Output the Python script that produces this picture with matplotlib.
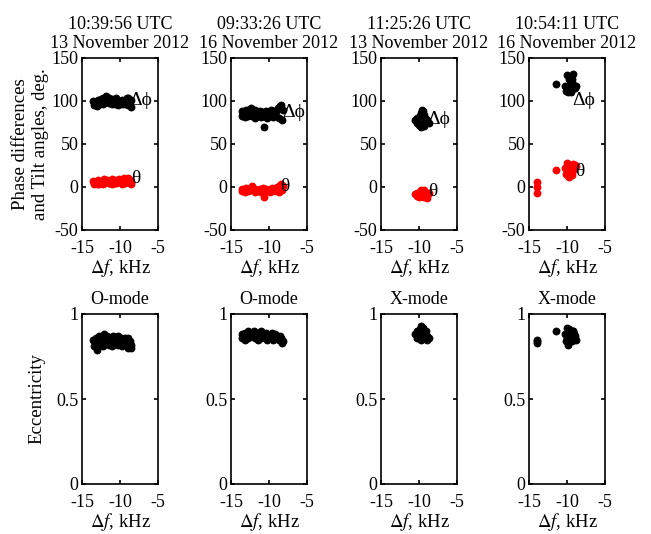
import matplotlib.pyplot as plt

plt.rcParams['font.family'] = ['Liberation Serif', 'DejaVu Serif']
plt.rcParams['font.size'] = 13
plt.rcParams['mathtext.fontset'] = 'stix'
plt.rcParams['axes.unicode_minus'] = False

titles = ["10:39:56 UTC\n13 November 2012", "09:33:26 UTC\n16 November 2012",
          "11:25:26 UTC\n13 November 2012", "10:54:11 UTC\n16 November 2012"]
modes = ["O-mode", "O-mode", "X-mode", "X-mode"]

# panel 1 (13 Nov, 10:39:56)
f1 = [-13.5, -13.3, -13.1, -12.9, -12.7, -12.5, -12.3, -12.1, -11.9, -11.7, -11.5, -11.3,
      -11.1, -10.9, -10.7, -10.5, -10.3, -10.1, -9.9, -9.7, -9.5, -9.3, -9.1, -8.9, -8.7, -8.5,
      -13.4, -13.0, -12.6, -12.2, -11.8, -11.4, -11.0, -10.6, -10.2, -9.8, -9.4, -9.0, -8.6]
dphi1 = [100, 97, 99, 101, 98, 102, 104, 101, 106, 103, 104, 100,
         102, 99, 101, 103, 100, 97, 99, 101, 100, 98, 103, 104, 99, 101,
         95, 94, 96, 97, 99, 98, 96, 97, 95, 96, 97, 95, 93]
tilt1 = [7, 5, 6, 8, 4, 6, 7, 9, 6, 8, 5, 7,
         9, 6, 8, 5, 7, 9, 6, 8, 10, 7, 9, 11, 8, 6,
         4, 3, 5, 4, 6, 5, 4, 5, 6, 4, 5, 6, 4]
ecc1 = [0.85, 0.83, 0.86, 0.84, 0.87, 0.85, 0.86, 0.88, 0.84, 0.87, 0.85, 0.86,
        0.84, 0.87, 0.86, 0.85, 0.87, 0.84, 0.86, 0.85, 0.83, 0.86, 0.85, 0.86, 0.84, 0.82,
        0.81, 0.79, 0.82, 0.81, 0.83, 0.82, 0.81, 0.83, 0.82, 0.81, 0.82, 0.80, 0.80]

# panel 2 (16 Nov, 09:33:26)
f2 = [-13.6, -13.4, -13.2, -13.0, -12.8, -12.6, -12.4, -12.2, -12.0, -11.8, -11.6, -11.4,
      -11.2, -11.0, -10.8, -10.6, -10.4, -10.2, -10.0, -9.8, -9.6, -9.4, -9.2, -9.0, -8.8, -8.6,
      -8.4, -8.2, -13.5, -13.1, -12.7, -12.3, -11.9, -11.5, -11.1, -10.7, -10.3, -9.9, -9.5,
      -9.1, -8.7, -8.3, -10.6]
dphi2 = [88, 85, 86, 89, 90, 87, 92, 88, 86, 90, 87, 85,
         88, 86, 87, 85, 88, 86, 87, 89, 86, 88, 87, 90, 92, 94,
         95, 89, 82, 81, 83, 82, 80, 83, 81, 82, 80, 83, 81,
         82, 80, 78, 70]
tilt2 = [-2, -4, -3, -1, -3, -2, -4, 1, -3, -2, -4, -3,
         -2, -4, -1, -3, -2, -4, -3, -2, -1, -3, -2, 0, -2, 2,
         3, 1, -5, -6, -5, -4, -6, -5, -6, -4, -5, -6, -4,
         -5, -6, -4, -12]
ecc2 = [0.88, 0.87, 0.89, 0.88, 0.90, 0.88, 0.89, 0.87, 0.90, 0.88, 0.89, 0.87,
        0.88, 0.90, 0.88, 0.87, 0.89, 0.88, 0.87, 0.88, 0.89, 0.87, 0.88, 0.87, 0.86, 0.87,
        0.86, 0.84, 0.86, 0.85, 0.86, 0.87, 0.86, 0.85, 0.86, 0.87, 0.85, 0.86, 0.85,
        0.86, 0.85, 0.83, 0.87]

# panel 3 (13 Nov, 11:25:26)
f3 = [-10.5, -10.3, -10.1, -9.9, -9.7, -9.5, -9.3, -9.1, -8.9, -8.7,
      -10.2, -10.0, -9.8, -9.6, -9.4, -9.2, -9.0, -9.8, -9.6, -9.4]
dphi3 = [78, 80, 76, 82, 84, 88, 81, 79, 76, 74,
         74, 72, 70, 73, 71, 75, 78, 86, 90, 84]
tilt3 = [-8, -7, -9, -6, -10, -5, -8, -11, -9, -7,
         -10, -12, -11, -9, -12, -10, -13, -4, -6, -3]
ecc3 = [0.88, 0.90, 0.87, 0.91, 0.89, 0.92, 0.88, 0.90, 0.87, 0.86,
        0.86, 0.88, 0.85, 0.89, 0.86, 0.87, 0.85, 0.93, 0.91, 0.89]

# panel 4 (16 Nov, 10:54:11)
f4 = [-14.0, -14.0, -14.0, -11.5, -10.2, -10.0, -9.8, -9.6, -9.4, -9.2, -9.0, -8.8,
      -10.1, -9.9, -9.7, -9.5, -9.3, -9.1, -10.0, -9.2, -9.8, -9.4]
dphi4 = [None, None, None, 120, 118, 114, 116, 120, 122, 118, 115, 117,
         112, 110, 113, 111, 114, 116, 130, 131, 125, 126]
tilt4 = [6, 0, -7, 20, 22, 18, 25, 20, 17, 23, 26, 24,
         15, 13, 16, 19, 14, 21, 28, 27, 12, 22]
ecc4 = [0.85, 0.84, 0.83, 0.90, 0.88, 0.86, 0.91, 0.88, 0.86, 0.90, 0.87, 0.85,
        0.84, 0.82, 0.85, 0.89, 0.87, 0.88, 0.92, 0.90, 0.86, 0.84]

freqs = [f1, f2, f3, f4]
dphis = [dphi1, dphi2, dphi3, dphi4]
tilts = [tilt1, tilt2, tilt3, tilt4]
eccs = [ecc1, ecc2, ecc3, ecc4]

# label anchor positions (freq, value) for the Δφ and θ annotations
dphi_lab = [(-8.8, 100), (-8.3, 87), (-8.9, 78), (-9.3, 100)]
tilt_lab = [(-8.6, 10), (-8.5, 0), (-8.8, -5), (-8.9, 18)]

fig = plt.figure(figsize=(6.51, 5.34), dpi=100)
lefts = [82, 231, 381, 529]
W, H = 651, 534
aw = 76

for i in range(4):
    top = fig.add_axes([lefts[i] / W, 1 - 230 / H, aw / W, 172 / H])
    bot = fig.add_axes([lefts[i] / W, 1 - 484 / H, aw / W, 170 / H])

    fx = [f for f, d in zip(freqs[i], dphis[i]) if d is not None]
    dy = [d for d in dphis[i] if d is not None]
    top.scatter(fx, dy, s=32, color='black', linewidths=0, zorder=3)
    top.scatter(freqs[i], tilts[i], s=32, color='red', linewidths=0, zorder=3)
    top.text(dphi_lab[i][0], dphi_lab[i][1], 'Δϕ', fontsize=14, va='center', ha='left')
    top.text(tilt_lab[i][0], tilt_lab[i][1], 'θ', fontsize=14, va='center', ha='left')
    top.set_ylim(-50, 150)
    top.set_yticks([-50, 0, 50, 100, 150])
    top.set_title(titles[i], fontsize=13, pad=7, linespacing=1.2)

    bot.scatter(freqs[i], eccs[i], s=32, color='black', linewidths=0, zorder=3)
    bot.set_ylim(0, 1)
    bot.set_yticks([0, 0.5, 1])
    bot.set_yticklabels(['0', '0.5', '1'])
    bot.set_title(modes[i], fontsize=13, pad=7)

    for ax in (top, bot):
        ax.set_xlim(-15, -5)
        ax.set_xticks([-15, -10, -5])
        ax.tick_params(direction='in', top=True, right=True, length=3, width=1.2)
        ax.tick_params(axis='x', pad=7)
        ax.tick_params(axis='y', pad=2.5)
        ax.set_xlabel(r'$\Delta f$, kHz', fontsize=13.5, labelpad=0)
        for sp in ax.spines.values():
            sp.set_linewidth(1.2)

    if i == 0:
        top.set_ylabel("Phase differences\nand Tilt angles, deg.", fontsize=13.5, labelpad=2)
        bot.set_ylabel("Eccentricity", fontsize=13.5, labelpad=8)

fig.savefig('out.png', dpi=100)
